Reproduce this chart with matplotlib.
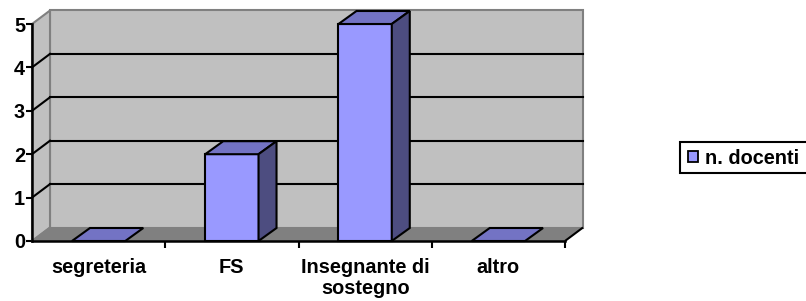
import matplotlib
matplotlib.use("Agg")
import matplotlib.pyplot as plt
from matplotlib.patches import Polygon, Rectangle

categories = ["segreteria", "FS", "Insegnante di\nsostegno", "altro"]
values = [0, 2, 5, 0]
series_name = "n. docenti"
yticks = [0, 1, 2, 3, 4, 5]

W, H, DPI = 806, 301, 100
fig = plt.figure(figsize=(W / DPI, H / DPI), dpi=DPI)
plt.rcParams['font.family'] = ['Liberation Sans', 'DejaVu Sans']
FS = 14.3

# front plot box in pixels
x_left, x_right = 32, 565
y_top, y_bot = 24, 241
ax = fig.add_axes([x_left / W, 1 - y_bot / H, (x_right - x_left) / W, (y_bot - y_top) / H])
ax.set_xlim(-0.5, 3.5)
ax.set_ylim(0, 5)
ax.patch.set_alpha(0)

px_x = (x_right - x_left) / 4.0
px_y = (y_bot - y_top) / 5.0
DX = 18 / px_x
DY = 13.5 / px_y
BDX = 18 / px_x
BDY = 13 / px_y

wall = '#c0c0c0'
floor = '#808080'
wedge = '#808080'
x0, x1 = -0.5, 3.5
ymax = 5

# back wall
ax.add_patch(Polygon([(x0 + DX, DY), (x1 + DX, DY), (x1 + DX, ymax + DY), (x0 + DX, ymax + DY)],
                     closed=True, facecolor=wall, edgecolor=wedge, lw=1.5, zorder=1, clip_on=False))
# left wall
ax.add_patch(Polygon([(x0, 0), (x0 + DX, DY), (x0 + DX, ymax + DY), (x0, ymax)],
                     closed=True, facecolor=wall, edgecolor=wedge, lw=1.5, zorder=1, clip_on=False))
# floor
ax.add_patch(Polygon([(x0, 0), (x1, 0), (x1 + DX, DY), (x0 + DX, DY)],
                     closed=True, facecolor=floor, edgecolor='none', lw=0, zorder=1.5, clip_on=False))
ax.plot([x1, x1 + DX], [0, DY], color='black', lw=1.5, zorder=2, clip_on=False, solid_capstyle='butt')
ax.plot([x0, x0 + DX], [0, DY], color=wedge, lw=1.2, zorder=1.6, clip_on=False)

# gridlines
for v in yticks[1:-1]:
    ax.plot([x0 + DX, x1 + DX], [v + DY, v + DY], color='black', lw=1.5, zorder=2, clip_on=False)
    ax.plot([x0, x0 + DX], [v, v + DY], color='black', lw=1.5, zorder=2, clip_on=False)

front_c = '#9999ff'
top_c = '#7373c4'
side_c = '#4d4d80'
bw = 0.4
xs = list(range(len(categories)))
bars = ax.bar(xs, values, width=bw, color=front_c, edgecolor='black', linewidth=1.5,
              zorder=3, clip_on=False, label=series_name)
for x, v in zip(xs, values):
    a, b = x - bw / 2, x + bw / 2
    ax.add_patch(Polygon([(a, v), (b, v), (b + BDX, v + BDY), (a + BDX, v + BDY)], closed=True,
                         facecolor=top_c, edgecolor='black', lw=1.5, zorder=3, clip_on=False,
                         joinstyle='miter'))
    if v > 0:
        ax.add_patch(Polygon([(b, 0), (b + BDX, BDY), (b + BDX, v + BDY), (b, v)], closed=True,
                             facecolor=side_c, edgecolor='black', lw=1.5, zorder=3, clip_on=False,
                             joinstyle='miter'))

# axes styling
for s in ['top', 'right']:
    ax.spines[s].set_visible(False)
for s in ['left', 'bottom']:
    ax.spines[s].set_color('black')
    ax.spines[s].set_linewidth(1.8)
    ax.spines[s].set_zorder(4)

ax.set_yticks(yticks)
ax.set_yticklabels([str(t) for t in yticks], fontsize=FS, fontweight='bold')
ax.tick_params(axis='y', length=4, width=1.5, pad=1)
ax.set_xticks(xs)
ax.set_xticklabels(categories, fontsize=FS, fontweight='bold', linespacing=1.12)
ax.set_xticks([0.5, 1.5, 2.5, 3.5], minor=True)
ax.tick_params(axis='x', which='major', length=0, pad=12.5)
ax.tick_params(axis='x', which='minor', length=5, width=1.5)

# legend
leg_ax = fig.add_axes([0, 0, 1, 1])
leg_ax.set_xlim(0, W)
leg_ax.set_ylim(H, 0)
leg_ax.axis('off')
leg_ax.add_patch(Rectangle((680, 142), 135, 31, facecolor='white', edgecolor='black', lw=1.5))
leg_ax.add_patch(Rectangle((688, 151), 10, 11, facecolor=front_c, edgecolor='black', lw=1.3))
leg_ax.text(705, 164, series_name, fontsize=FS, fontweight='bold', va='baseline', ha='left')

fig.savefig("out.png", dpi=DPI)
